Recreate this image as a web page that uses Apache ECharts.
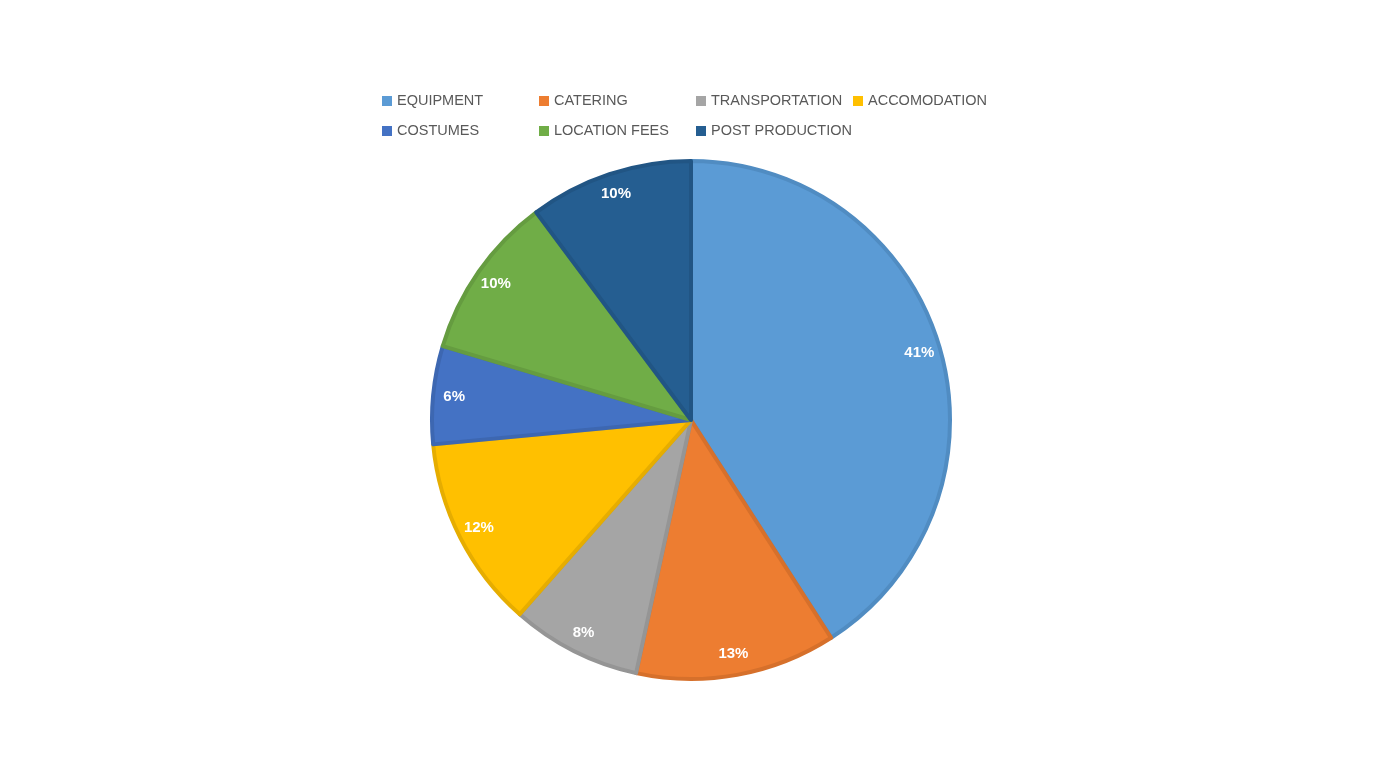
<!DOCTYPE html>
<html>
<head>
<meta charset="utf-8">
<script src="https://cdn.jsdelivr.net/npm/echarts@6/dist/echarts.min.js"></script>
<style>html,body{margin:0;padding:0;background:#fff;}#c{width:1382px;height:773px;}</style>
</head>
<body>
<div id="c"></div>
<script>
const categories = ['EQUIPMENT', 'CATERING', 'TRANSPORTATION', 'ACCOMODATION', 'COSTUMES', 'LOCATION FEES', 'POST PRODUCTION'];
const values = [40.9, 12.5, 8.1, 12.0, 6.1, 10.2, 10.2];

const fillColors = ['#5B9BD5', '#ED7D31', '#A5A5A5', '#FFC000', '#4472C4', '#70AD47', '#255E91'];
const borderColors = ['#508CC2', '#D6702B', '#959595', '#E6AD00', '#3D67B1', '#659C40', '#215584'];

const chart = echarts.init(document.getElementById('c'), null, {renderer: 'canvas'});
const mainData = categories.map((n, i) => ({
  name: n, value: values[i],
  itemStyle: {color: fillColors[i], borderColor: borderColors[i], borderWidth: 4}
}));
const labelData = categories.map((n, i) => ({name: n, value: values[i]}));
chart.setOption({
  animation: false,
  backgroundColor: '#ffffff',
  legend: {
    data: categories,
    left: 377, top: 81, width: 640,
    orient: 'horizontal',
    itemWidth: 10, itemHeight: 10, itemGap: 0,
    icon: 'rect',
    selectedMode: false,
    itemStyle: {borderWidth: 0},
    textStyle: {color: '#595959', fontSize: 14.5, fontFamily: 'Liberation Sans, Arial, sans-serif', width: 142, lineHeight: 30, overflow: 'none'}
  },
  series: [
    {
      type: 'pie', center: [691, 420], radius: [0, 259],
      startAngle: 90, clockwise: true, silent: true,
      label: {show: false}, labelLine: {show: false},
      data: mainData
    },
    {
      type: 'pie', center: [691, 420], radius: [211, 259],
      startAngle: 90, clockwise: true, silent: true,
      itemStyle: {color: 'rgba(0,0,0,0)', borderWidth: 0},
      label: {
        show: true, position: 'inside',
        formatter: p => Math.round(p.value) + '%',
        color: '#ffffff', fontWeight: 'bold', fontSize: 15,
        fontFamily: 'Liberation Sans, Arial, sans-serif'
      },
      labelLine: {show: false},
      data: labelData
    }
  ]
});
</script>
</body>
</html>
